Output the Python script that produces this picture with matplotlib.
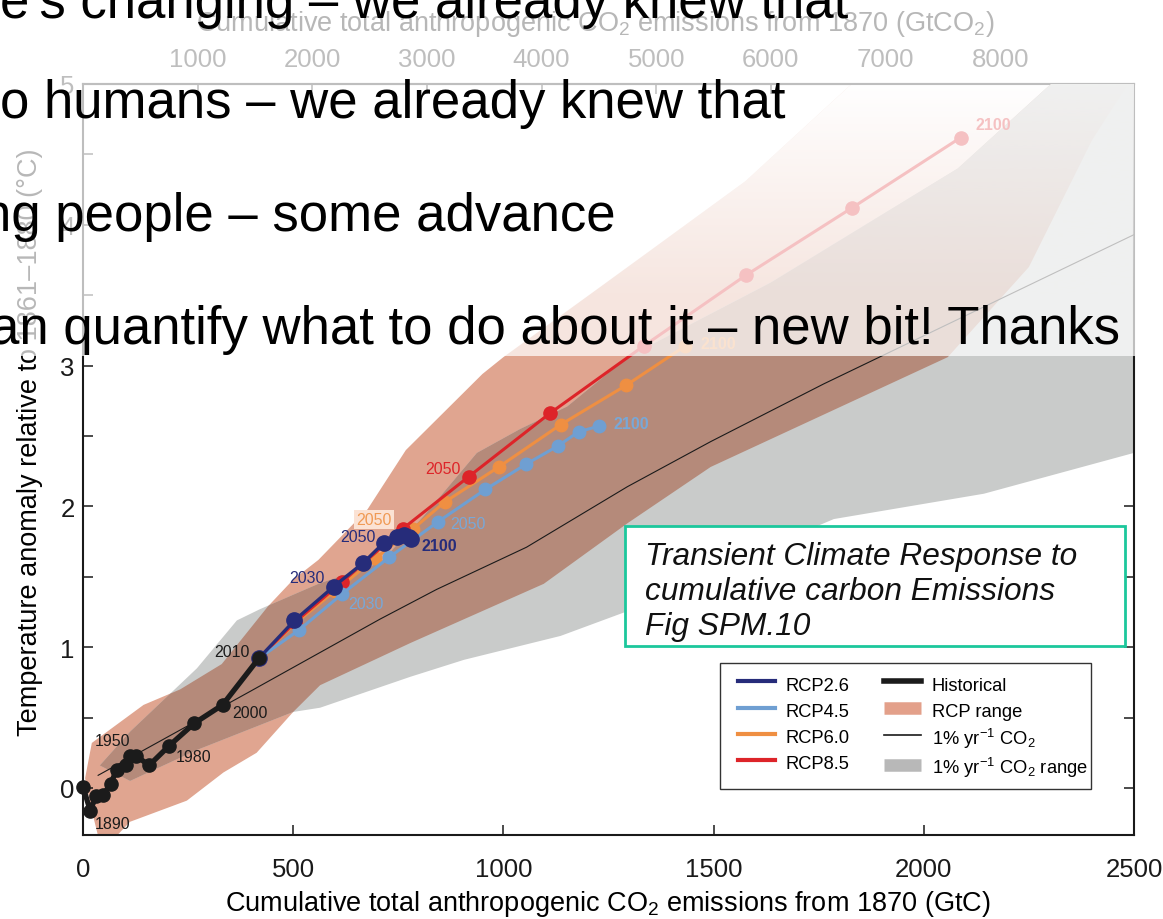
import matplotlib
matplotlib.use('Agg')
import matplotlib.pyplot as plt
import numpy as np
from matplotlib.lines import Line2D
from matplotlib.patches import Polygon, Rectangle

plt.rcParams['font.family'] = ['Liberation Sans', 'DejaVu Sans']
plt.rcParams['mathtext.fontset'] = 'custom'
plt.rcParams['mathtext.rm'] = 'Liberation Sans'
plt.rcParams['mathtext.it'] = 'Liberation Sans:italic'
plt.rcParams['mathtext.bf'] = 'Liberation Sans:bold'

hist_x = [0, 17, 31, 48, 66, 80, 102, 112, 126, 157, 205, 265, 332, 418]
hist_y = [0.01, -0.16, -0.06, -0.05, 0.03, 0.13, 0.16, 0.23, 0.23, 0.16, 0.30, 0.46, 0.59, 0.92]

rcp26_x = [418, 503, 596, 667, 715, 747, 763, 775, 780]
rcp26_y = [0.92, 1.19, 1.43, 1.60, 1.74, 1.78, 1.80, 1.78, 1.77]
rcp45_x = [418, 513, 617, 729, 844, 957, 1054, 1130, 1179, 1227]
rcp45_y = [0.92, 1.12, 1.38, 1.64, 1.89, 2.12, 2.30, 2.43, 2.53, 2.57]
rcp60_x = [418, 505, 600, 695, 785, 860, 989, 1136, 1292, 1433]
rcp60_y = [0.92, 1.17, 1.40, 1.63, 1.84, 2.03, 2.28, 2.58, 2.86, 3.14]
rcp85_x = [418, 505, 615, 760, 917, 1110, 1334, 1576, 1829, 2088]
rcp85_y = [0.92, 1.18, 1.46, 1.84, 2.21, 2.66, 3.14, 3.64, 4.12, 4.62]

pct_x = [36, 400, 707, 841, 1055, 1295, 1493, 1762, 2500]
pct_y = [0.09, 0.69, 1.20, 1.41, 1.71, 2.14, 2.46, 2.87, 3.93]

# RCP plume outline
rcp_hi_x = [21, 144, 231, 330, 440, 500, 560, 677, 768, 950, 1000, 1231, 1360, 1576, 1821, 2000, 2700]
rcp_hi_y = [0.32, 0.59, 0.70, 0.88, 1.29, 1.48, 1.62, 1.98, 2.40, 2.94, 3.06, 3.56, 3.84, 4.31, 4.98, 5.4, 6.5]
rcp_lo_x = [5, 20, 45, 112, 247, 334, 413, 500, 564, 779, 1096, 1295, 1493, 2057, 2250, 2400, 2700]
rcp_lo_y = [0.07, -0.15, -0.45, -0.24, -0.09, 0.11, 0.25, 0.54, 0.73, 1.03, 1.45, 1.88, 2.28, 3.06, 3.70, 4.60, 6.0]

# 1% per year CO2 plume outline
pct_hi_x = [40, 112, 271, 366, 421, 560, 707, 810, 937, 1040, 1152, 1295, 1636, 2081, 2295, 2500, 2700]
pct_hi_y = [0.16, 0.40, 0.85, 1.19, 1.27, 1.45, 1.60, 1.93, 2.38, 2.55, 2.71, 3.06, 3.59, 4.40, 4.98, 5.5, 6.0]
pct_lo_x = [40, 112, 271, 500, 564, 779, 906, 1136, 1290, 1500, 1786, 2143, 2500, 2700]
pct_lo_y = [0.16, 0.05, 0.27, 0.54, 0.57, 0.79, 0.91, 1.08, 1.25, 1.55, 1.91, 2.09, 2.38, 2.50]

top_ticks = [1000, 2000, 3000, 4000, 5000, 6000, 7000, 8000, 9000]
top_labels = ['1000', '2000', '3000', '4000', '5000', '6000', '7000', '8000', '']

bullets = [
    "e's changing \u2013 we already knew that",
    "o humans \u2013 we already knew that",
    "ng people \u2013 some advance",
    "an quantify what to do about it \u2013 new bit! Thanks",
]

C26 = '#262c7a'
C45 = '#6f9fd2'
C60 = '#ef8f42'
C85 = '#dd2429'
C_HIST = '#1b1b1b'
C_RCP = '#e0a590'
C_PCT = '#c9cbca'
C_OVER = '#b58a7a'
GTCO2 = 3.667

W, H = 1163, 920
fig = plt.figure(figsize=(W / 100, H / 100), dpi=100)
ax = fig.add_axes([83 / W, 1 - 836 / H, 1051 / W, 751 / H])


def figpx(px, py):
    return px / W, 1 - py / H


# plumes
rcp_poly = list(zip(rcp_hi_x, rcp_hi_y)) + list(zip(rcp_lo_x, rcp_lo_y))[::-1]
pct_poly = list(zip(pct_hi_x, pct_hi_y)) + list(zip(pct_lo_x, pct_lo_y))[::-1]

rcp_patch = Polygon(rcp_poly, closed=True, fc=C_RCP, ec='none', zorder=1)
ax.add_patch(rcp_patch)

# rcp plume fades out towards the top (fewer models)
ygrid = np.linspace(-0.5, 5.5, 300)
fade = np.clip((ygrid - 3.5) / 1.5, 0, 1)
white = np.ones((fade.size, 1, 4))
white[:, 0, 3] = fade
im = ax.imshow(white, extent=(0, 2700, -0.5, 5.5), aspect='auto', origin='lower',
               interpolation='bilinear', zorder=1.5)
im.set_clip_path(rcp_patch)

pct_patch = Polygon(pct_poly, closed=True, fc=C_PCT, ec='none', zorder=2)
ax.add_patch(pct_patch)
over = Polygon(rcp_poly, closed=True, fc=C_OVER, ec='none', zorder=3)
ax.add_patch(over)
over.set_clip_path(pct_patch)

grey = np.ones((fade.size, 1, 4))
grey[:, 0, :3] = np.array([201, 203, 202]) / 255
grey[:, 0, 3] = fade
im2 = ax.imshow(grey, extent=(0, 2700, -0.5, 5.5), aspect='auto', origin='lower',
                interpolation='bilinear', zorder=3.5)
im2.set_clip_path(pct_patch)

ax.plot(pct_x, pct_y, color='#1a1a1a', lw=0.8, zorder=4)

ax.plot(rcp60_x, rcp60_y, '-o', color=C60, lw=2.2, ms=9, zorder=5)
ax.plot(rcp85_x, rcp85_y, '-o', color=C85, lw=2.2, ms=9.5, zorder=6)
ax.plot(rcp45_x, rcp45_y, '-o', color=C45, lw=2.2, ms=9, zorder=7)
ax.plot(rcp26_x, rcp26_y, '-o', color=C26, lw=2.4, ms=11, zorder=8)
ax.plot(hist_x, hist_y, '-o', color=C_HIST, lw=3.8, ms=9.5, zorder=9, clip_on=False)


def tag(xs, ys, i, text, dx, dy, color, weight='normal', box=None):
    ax.annotate(text, (xs[i], ys[i]), xytext=(dx, dy), textcoords='offset pixels',
                ha='center', va='center', fontsize=11.5, color=color,
                fontweight=weight, zorder=15, bbox=box)


tag(hist_x, hist_y, 1, '1890', 22, -13, C_HIST)
tag(hist_x, hist_y, 7, '1950', -18, 15, C_HIST)
tag(hist_x, hist_y, 10, '1980', 24, -11, C_HIST)
tag(hist_x, hist_y, 12, '2000', 27, -8, C_HIST)
tag(hist_x, hist_y, 13, '2010', -27, 7, C_HIST)
tag(rcp26_x, rcp26_y, 2, '2030', -27, 9, C26)
tag(rcp26_x, rcp26_y, 4, '2050', -26, 6, C26)
tag(rcp26_x, rcp26_y, 8, '2100', 28, -7, C26, 'bold')
tag(rcp45_x, rcp45_y, 2, '2030', 24, -10, '#78a8d8')
tag(rcp45_x, rcp45_y, 4, '2050', 30, -2, '#78a8d8')
tag(rcp45_x, rcp45_y, 9, '2100', 32, 3, '#78a8d8', 'bold')
tag(rcp60_x, rcp60_y, 4, '2050', -39, 9, '#f09a55',
    box=dict(boxstyle='square,pad=0.12', fc='#fbe2d4', ec='none'))
tag(rcp60_x, rcp60_y, 9, '2100', 33, 2, '#f09a55', 'bold')
tag(rcp85_x, rcp85_y, 4, '2050', -26, 8, C85)
tag(rcp85_x, rcp85_y, 9, '2100', 33, 13, C85, 'bold')

ax.set_xlim(0, 2500)
ax.set_ylim(-0.334, 5)
ax.set_xticks([0, 500, 1000, 1500, 2000, 2500])
ax.set_yticks([0, 1, 2, 3, 4, 5])
ax.set_yticks(np.arange(0, 5.01, 0.5), minor=True)
ax.tick_params(which='both', direction='in', length=7, width=1.1, right=True,
               colors='#1a1a1a', labelsize=18.5)
ax.tick_params(axis='x', pad=15.5)
ax.tick_params(axis='y', pad=6)
for s in ax.spines.values():
    s.set_linewidth(1.5)
    s.set_color('#1a1a1a')

ax.set_xlabel('Cumulative total anthropogenic CO$_2$ emissions from 1870 (GtC)', fontsize=19.5)
ax.xaxis.set_label_coords(*figpx(608, 889), transform=fig.transFigure)
ax.set_ylabel('Temperature anomaly relative to 1861\u20131880 (\u00b0C)', fontsize=19.5)
ax.yaxis.set_label_coords(*figpx(43, 442), transform=fig.transFigure)

sec = ax.secondary_xaxis('top', functions=(lambda v: v * GTCO2, lambda v: v / GTCO2))
sec.set_xticks(top_ticks, labels=top_labels)
sec.tick_params(direction='in', length=7, width=1.1, colors='#1a1a1a', labelsize=18.5, pad=9)
sec.spines['top'].set_linewidth(1.5)
sec.set_xlabel('Cumulative total anthropogenic CO$_2$ emissions from 1870 (GtCO$_2$)', fontsize=19.5)
sec.xaxis.set_label_coords(*figpx(595, 31), transform=fig.transFigure)

# legend: frame drawn separately so the rows of both columns line up
handles = [
    Line2D([], [], color=C26, lw=3),
    Line2D([], [], color=C45, lw=3),
    Line2D([], [], color=C60, lw=3),
    Line2D([], [], color=C85, lw=3),
    Line2D([], [], color=C_HIST, lw=4),
    Line2D([], [], color='#e3a08a', lw=9, solid_capstyle='butt'),
    Line2D([], [], color='#1a1a1a', lw=1.2),
    Line2D([], [], color='#b8b8b8', lw=9, solid_capstyle='butt'),
]
names = ['RCP2.6', 'RCP4.5', 'RCP6.0', 'RCP8.5', 'Historical', 'RCP range',
         '1% yr$^{-1}$ CO$_2$', '1% yr$^{-1}$ CO$_2$ range']
x0, y0 = figpx(720, 790)
ax.add_artist(Rectangle((x0, y0), 371 / W, 126 / H, transform=fig.transFigure,
                        fc='white', ec='#333333', lw=1.0, zorder=19))
leg = ax.legend(handles, names, ncol=2, loc='upper left',
                bbox_to_anchor=figpx(738, 674), bbox_transform=fig.transFigure,
                frameon=False, fontsize=13.2, handlelength=2.0, handleheight=1.38,
                handletextpad=0.6, columnspacing=1.88, labelspacing=0.29,
                borderpad=0, borderaxespad=0)
leg.set_zorder(20)

# teal caption box
fig.add_artist(Rectangle(figpx(625, 647), 500 / W, 120 / H, transform=fig.transFigure,
                         fc='white', ec='#1cc79c', lw=2, zorder=12))
for txt, base in zip(['Transient Climate Response to', 'cumulative carbon Emissions', 'Fig SPM.10'],
                     [565, 600, 635]):
    fig.text(*figpx(645, base), txt, fontsize=22.8, style='italic', va='baseline',
             color='#111111', zorder=13)

# slide overlay and bullet text
fig.add_artist(Rectangle(figpx(0, 357), 1, 357 / H, transform=fig.transFigure,
                         fc='white', ec='none', alpha=0.72, zorder=10))
for txt, bx, base in zip(bullets, [0, 0, -18, -10], [18, 118, 231, 344]):
    fig.text(*figpx(bx, base), txt, fontsize=38, va='baseline', color='black', zorder=11)

fig.savefig('out.png', dpi=100)
